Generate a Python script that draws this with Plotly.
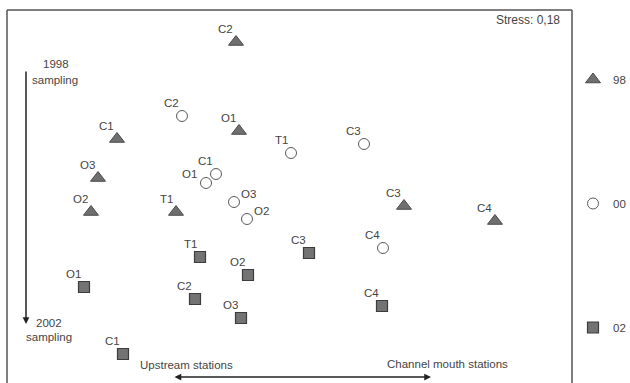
import plotly.graph_objects as go

# NMDS coordinates (arbitrary units)
stations_98 = ["C1", "C2", "O1", "O2", "O3", "T1", "C3", "C4"]
x_98 = [-1.73, -0.54, -0.51, -1.99, -1.92, -1.14, 1.14, 2.05]
y_98 = [0.61, 1.58, 0.69, -0.12, 0.22, -0.12, -0.06, -0.21]

stations_00 = ["C1", "C2", "O1", "O2", "O3", "T1", "C3", "C4"]
x_00 = [-0.74, -1.08, -0.84, -0.43, -0.56, 0.01, 0.74, 0.93]
y_00 = [0.26, 0.84, 0.17, -0.19, -0.02, 0.47, 0.56, -0.48]

stations_02 = ["C1", "C2", "O1", "O2", "O3", "T1", "C3", "C4"]
x_02 = [-1.67, -0.95, -2.06, -0.42, -0.49, -0.90, 0.19, 0.92]
y_02 = [-1.54, -0.99, -0.87, -0.75, -1.18, -0.57, -0.53, -1.06]

series_names = ["98", "00", "02"]
stress_text = "Stress: 0,18"

FONT = "Liberation Sans, Arial, sans-serif"
TXT = "#444444"
FS = 11.5
W, H = 630, 383

def px(x):
    return x / W

def py(y):
    return 1 - y / H

fig = go.Figure()

styles = [
    dict(symbol="triangle-up", size=13, color="#6f6f6f", line=dict(color="#4a4a4a", width=1)),
    dict(symbol="circle", size=11, color="white", line=dict(color="#5a5a5a", width=1)),
    dict(symbol="square", size=11, color="#737373", line=dict(color="#3c3c3c", width=1.2)),
]
data = [(stations_98, x_98, y_98), (stations_00, x_00, y_00), (stations_02, x_02, y_02)]

for name, (st, xs, ys), sty in zip(series_names, data, styles):
    fig.add_trace(go.Scatter(
        x=xs, y=ys, mode="markers", name=name, legendgroup=name,
        marker=sty, hoverinfo="skip",
    ))

# label placement exceptions (series, station) -> (xanchor, xshift, yshift)
special = {
    ("00", "O1"): ("right", -7, 9),
    ("00", "O3"): ("left", 5, 8),
    ("00", "O2"): ("left", 5, 8),
}

annotations = []
for name, (st, xs, ys) in zip(series_names, data):
    for s, x, y in zip(st, xs, ys):
        xa, xsft, ysft = special.get((name, s), ("right", -1, 13))
        annotations.append(dict(
            x=x, y=y, xref="x", yref="y", text=s, showarrow=False,
            xanchor=xa, yanchor="middle", xshift=xsft, yshift=ysft,
            font=dict(family=FONT, size=FS, color=TXT),
        ))

def txt(t, x, y, xanchor="center", size=FS):
    return dict(x=px(x), y=py(y), xref="paper", yref="paper", text=t,
                showarrow=False, xanchor=xanchor, yanchor="middle",
                font=dict(family=FONT, size=size, color=TXT))

annotations += [
    txt(stress_text, 562, 20, "right", 12),
    txt("1998", 56, 64),
    txt("sampling", 55, 80),
    txt("2002", 49, 323),
    txt("sampling", 49, 337),
    txt("Upstream stations", 186, 365),
    txt("Channel mouth stations", 447, 364),
    # vertical arrow (1998 -> 2002)
    dict(x=px(26), y=py(324), xref="paper", yref="paper", ax=0, ay=-254,
         showarrow=True, arrowhead=2, arrowsize=0.9, arrowwidth=1.5,
         arrowcolor="#222222", text=""),
    # horizontal double arrow
    dict(x=px(431), y=py(377), xref="paper", yref="paper", ax=-258, ay=0,
         showarrow=True, arrowhead=2, startarrowhead=2, arrowside="end+start",
         arrowsize=0.9, startarrowsize=0.9, arrowwidth=1.5,
         arrowcolor="#222222", text=""),
]

frame_col = "#555555"
shapes = [
    dict(type="line", xref="paper", yref="paper", x0=px(7), x1=px(572), y0=py(10), y1=py(10),
         line=dict(color=frame_col, width=1.5)),
    dict(type="line", xref="paper", yref="paper", x0=px(7), x1=px(7), y0=py(10), y1=py(390),
         line=dict(color=frame_col, width=1.5)),
    dict(type="line", xref="paper", yref="paper", x0=px(572), x1=px(572), y0=py(10), y1=py(390),
         line=dict(color=frame_col, width=1.5)),
]

fig.update_layout(
    width=W, height=H,
    margin=dict(l=0, r=0, t=0, b=0, autoexpand=False),
    paper_bgcolor="white", plot_bgcolor="white",
    xaxis=dict(range=[-2.90, 3.40], visible=False, fixedrange=True),
    yaxis=dict(range=[-1.83, 2.00], visible=False, fixedrange=True),
    showlegend=True,
    legend=dict(x=px(573), y=py(65), xanchor="left", yanchor="top",
                tracegroupgap=105, bgcolor="rgba(0,0,0,0)",
                font=dict(family=FONT, size=FS, color=TXT)),
    annotations=annotations,
    shapes=shapes,
)

fig.write_html("out.html", config={"displayModeBar": False},
               post_script="document.body.style.margin='0';")
